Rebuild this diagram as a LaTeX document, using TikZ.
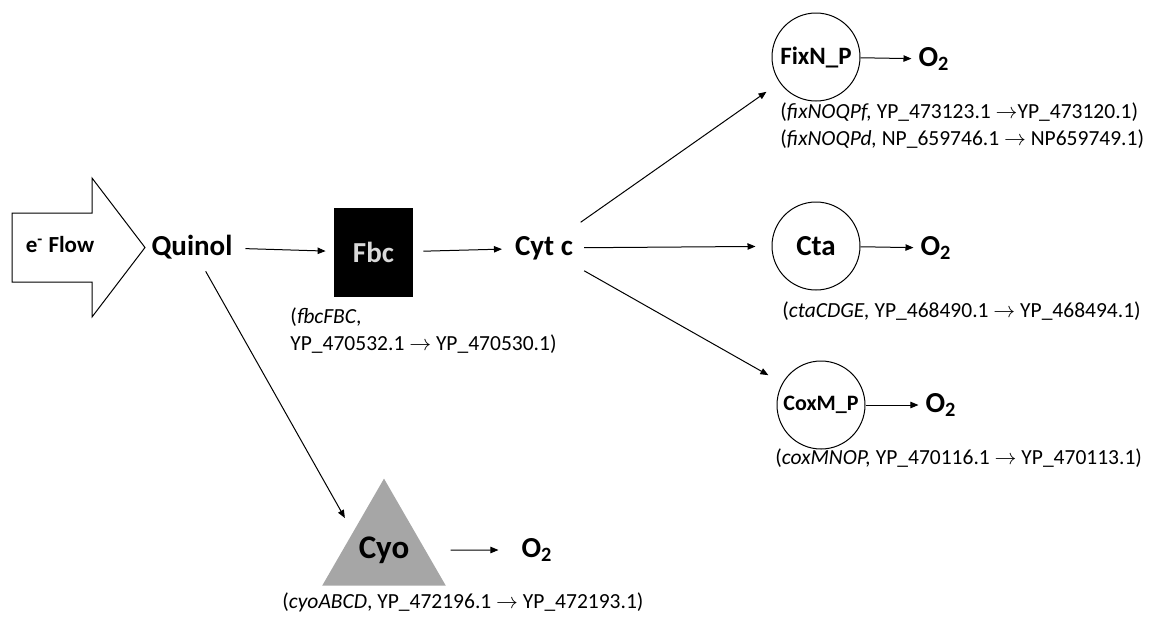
\documentclass[tikz,border=0pt]{standalone}
\usepackage{fontspec}
\setmainfont{Carlito}
\usetikzlibrary{arrows.meta,shapes.geometric}

\tikzset{
  big/.style={font=\bfseries\fontsize{14.5}{17}\selectfont},
  genes/.style={font=\fontsize{10.75}{13.5}\selectfont, align=left, anchor=west, inner sep=0pt},
  oxidase/.style={circle, draw, line width=0.5pt, inner sep=1pt, minimum size=44pt, font=\bfseries\fontsize{12.5}{15}\selectfont},
  flowarrow/.style={-{Triangle[length=4pt,width=3.2pt]}, line width=0.5pt},
}

\begin{document}
\begin{tikzpicture}[x=0.5pt,y=-0.5pt]
  \useasboundingbox (0,0) rectangle (1152,618);
  % electron input
  \draw[line width=0.5pt] (12,213) -- (92,213) -- (92,178) -- (145,247.5)
    -- (92,317) -- (92,282) -- (12,282) -- cycle;
  \node[font=\bfseries\fontsize{11.5}{14}\selectfont] (flow) at (60,245) {e\textsuperscript{-} Flow};

  \node[big] (quinol) at (192,247) {Quinol};
  \node[big, fill=black, text=black!15, minimum width=39.5pt, minimum height=44.5pt] (fbc) at (373.5,252.5) {Fbc};
  \node[big] (cytc) at (544,248) {Cyt c};

  \node[oxidase] (fixnp) at (816,57) {FixN\_P};
  \node[oxidase, big] (cta) at (816,246) {Cta};
  \node[oxidase, font=\bfseries\fontsize{11}{13}\selectfont] (coxmp) at (821,405) {CoxM\_P};
  \node[regular polygon, regular polygon sides=3, fill=black!35, minimum size=68pt, inner sep=0pt,
        font=\bfseries\fontsize{16.5}{20}\selectfont] (cyo) at (384,550) {Cyo};

  \node[big] (o2a) at (934,59) {O\textsubscript{2}};
  \node[big] (o2b) at (936,248) {O\textsubscript{2}};
  \node[big] (o2c) at (941,405) {O\textsubscript{2}};
  \node[big] (o2d) at (537,550) {O\textsubscript{2}};

  \node[genes] (fbcgenes) at (290,331) {(\textit{fbcFBC},\\YP\_470532.1 $\rightarrow$ YP\_470530.1)};
  \node[genes] (fixgenes) at (780,126) {(\textit{fixNOQPf,} YP\_473123.1 $\rightarrow$YP\_473120.1)\\(\textit{fixNOQPd,} NP\_659746.1 $\rightarrow$ NP659749.1)};
  \node[genes] (ctagenes) at (782,311) {(\textit{ctaCDGE,} YP\_468490.1 $\rightarrow$ YP\_468494.1)};
  \node[genes] (coxgenes) at (775,458) {(\textit{coxMNOP,} YP\_470116.1 $\rightarrow$ YP\_470113.1)};
  \node[genes] (cyogenes) at (282,602) {(\textit{cyoABCD}, YP\_472196.1 $\rightarrow$ YP\_472193.1)};

  \path[flowarrow]
    (quinol) edge[shorten <=3pt, shorten >=4pt] (fbc)
    (fbc) edge[shorten <=5pt, shorten >=3pt] (cytc)
    (cytc) edge[shorten <=6pt, shorten >=8pt] (fixnp)
    (cytc) edge[shorten <=2pt, shorten >=8pt] (cta)
    (cytc) edge[shorten <=4pt, shorten >=8pt] (coxmp)
    (quinol) edge[shorten <=3pt, shorten >=8pt] (cyo.side 1)
    (fixnp) edge (o2a)
    (cta) edge (o2b)
    (coxmp) edge (o2c)
    (cyo) edge[shorten <=12.5pt, shorten >=8pt] (o2d);
\end{tikzpicture}
\end{document}
